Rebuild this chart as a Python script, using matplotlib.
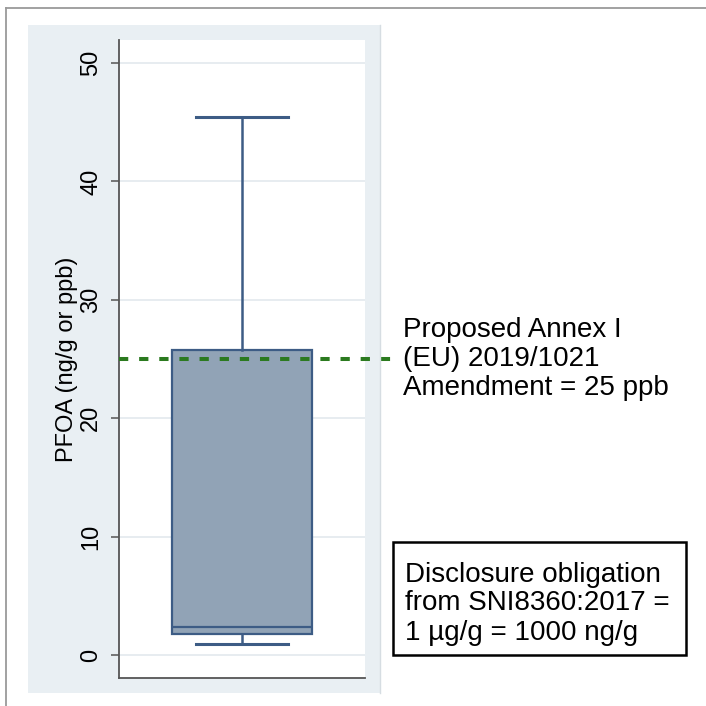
import matplotlib
matplotlib.use("Agg")
import matplotlib.pyplot as plt
from matplotlib.patches import Rectangle
from matplotlib.lines import Line2D

plt.rcParams['font.family'] = ['Liberation Sans', 'DejaVu Sans']

# PFOA summary statistics (ng/g)
whisker_low = 0.95
q1 = 1.8
median = 2.4
q3 = 25.8
whisker_high = 45.4
limit_ppb = 25

yticks = [0, 10, 20, 30, 40, 50]
ylabel = "PFOA (ng/g or ppb)"
limit_text = "Proposed Annex I\n(EU) 2019/1021\nAmendment = 25 ppb"
box_text = "Disclosure obligation\nfrom SNI8360:2017 =\n1 µg/g = 1000 ng/g"

fig = plt.figure(figsize=(7.06, 7.06), dpi=100)
fig.patch.set_facecolor("white")

# outer frame (top and left edges)
fig.add_artist(Line2D([6/706, 6/706], [0, 698/706], color="#9a9a9a", lw=1.3))
fig.add_artist(Line2D([6/706, 1], [698/706, 698/706], color="#9a9a9a", lw=1.3))

# shaded graph region
fig.add_artist(Rectangle((28/706, 13/706), 352/706, 668/706, transform=fig.transFigure,
                         facecolor="#e9eff3", edgecolor="none", zorder=0))
fig.add_artist(Line2D([380/706, 380/706], [13/706, 681/706], color="#d6dde2", lw=1.0))

ax = fig.add_axes([119/706, 28/706, 246/706, 638/706])
ax.set_facecolor("white")

stats = [dict(med=median, q1=q1, q3=q3, whislo=whisker_low, whishi=whisker_high, fliers=[])]
ax.bxp(stats, positions=[1], widths=0.573, capwidths=0.378, patch_artist=True, showfliers=False,
       boxprops=dict(facecolor="#91a3b6", edgecolor="#3d5c85", linewidth=1.6),
       medianprops=dict(color="#3d5c85", linewidth=1.6),
       whiskerprops=dict(color="#3d5c85", linewidth=1.8),
       capprops=dict(color="#3d5c85", linewidth=2.2),
       zorder=3)

ax.set_xlim(0.5, 1.5)
ax.set_ylim(-1.94, 51.94)
ax.set_yticks(yticks)
ax.set_yticklabels([str(t) for t in yticks], rotation=90, va="center", fontsize=17)
ax.set_xticks([])
ax.yaxis.grid(True, color="#e3e9ed", linewidth=1.2, zorder=0)
ax.set_axisbelow(True)

for side in ["top", "right"]:
    ax.spines[side].set_visible(False)
for side in ["left", "bottom"]:
    ax.spines[side].set_color("#555555")
    ax.spines[side].set_linewidth(1.3)
ax.tick_params(axis="y", direction="out", length=6, width=1.1, color="#555555", pad=6)

ax.set_ylabel(ylabel, fontsize=17, labelpad=2)

# proposed limit line running past the plot area
ax.plot([0, 1.105], [limit_ppb, limit_ppb], transform=ax.get_yaxis_transform(),
        color="#2b7a1f", linewidth=2.9, dashes=(2.3, 2.7), clip_on=False, zorder=5)

fig.text(403/706, ax.transData.transform((0, limit_ppb))[1] / 706, limit_text,
         fontsize=20, va="center", ha="left", linespacing=1.15)

fig.add_artist(Rectangle((393/706, 51/706), 293/706, 113/706, transform=fig.transFigure,
                         facecolor="white", edgecolor="black", lw=1.8))
fig.text(405/706, 102.5/706, box_text, fontsize=20, va="center", ha="left", linespacing=1.15)

fig.savefig("out.png", dpi=100)
